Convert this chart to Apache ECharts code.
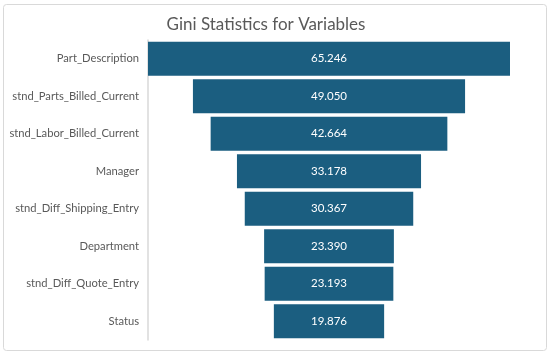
<!DOCTYPE html>
<html><head><meta charset="utf-8">
<script src="https://cdn.jsdelivr.net/npm/echarts@6/dist/echarts.min.js"></script>
<style>html,body{margin:0;padding:0;background:#fff}#c{width:550px;height:353px}</style>
</head><body><div id="c"></div>
<script>
var categories = ["Part_Description","stnd_Parts_Billed_Current","stnd_Labor_Billed_Current","Manager","stnd_Diff_Shipping_Entry","Department","stnd_Diff_Quote_Entry","Status"];
var giniValues = [65.246, 49.050, 42.664, 33.178, 30.367, 23.390, 23.193, 19.876];
var maxVal = Math.max.apply(null, giniValues);
var offsets = giniValues.map(function(v){ return (maxVal - v) / 2; });
var chart = echarts.init(document.getElementById('c'));
chart.setOption({
  animation: false,
  backgroundColor: '#fff',
  textStyle: { fontFamily: 'Lato' },
  title: { text: 'Gini Statistics for Variables', left: 261, textAlign: 'center', top: 11,
    textStyle: { fontSize: 17, fontWeight: 'normal', color: '#595959', fontFamily: 'Lato' } },
  graphic: [{ type: 'rect', shape: { x: 3.5, y: 4.5, width: 543, height: 346, r: 3 }, style: { fill: 'none', stroke: '#d9d9d9', lineWidth: 1 }, silent: true }],
  grid: { left: 148, right: 40, top: 40, bottom: 13, containLabel: false, outerBoundsMode: 'none' },
  xAxis: { type: 'value', min: 0, max: maxVal, show: false },
  yAxis: { type: 'category', data: categories, inverse: true,
    axisLine: { show: true, lineStyle: { color: '#d9d9d9', width: 1.5 } },
    axisTick: { show: false },
    axisLabel: { color: '#595959', fontSize: 11.2, margin: 9, fontFamily: 'Lato' } },
  series: [
    { type: 'bar', stack: 'f', data: offsets, itemStyle: { color: 'transparent' }, silent: true, barCategoryGap: '9%' },
    { type: 'bar', stack: 'f', data: giniValues, barCategoryGap: '9%',
      itemStyle: { color: '#1b5e80' },
      label: { show: true, position: 'inside', color: '#fff', fontSize: 11.5, fontFamily: 'Lato',
        formatter: function(p){ return p.value.toFixed(3); } } }
  ]
});
</script></body></html>
